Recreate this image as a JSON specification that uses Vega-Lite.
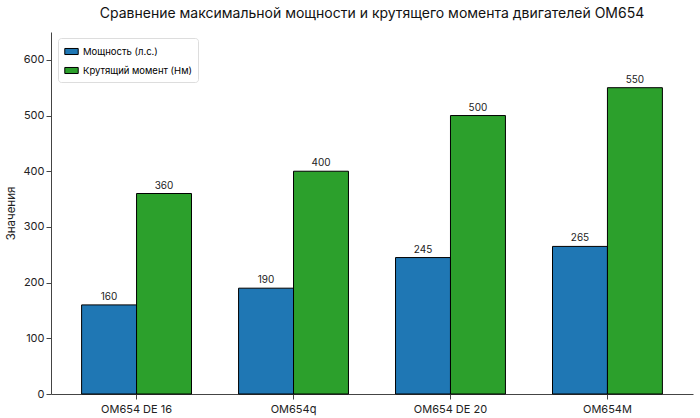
{
  "$schema": "https://vega.github.io/schema/vega-lite/v6.json",
  "autosize": "none",
  "padding": {"left": 51, "top": 32, "right": 7, "bottom": 24},
  "width": 642,
  "height": 362,
  "config": {
    "font": "Inter",
    "view": {"stroke": null},
    "axis": {"domainColor": "#444", "tickColor": "#444", "labelColor": "#222", "titleColor": "#222", "grid": false, "labelFontSize": 11, "titleFontWeight": "normal", "titleFontSize": 11.5}
  },
  "title": {"text": "Сравнение максимальной мощности и крутящего момента двигателей OM654", "fontSize": 14, "fontWeight": "normal", "color": "#111", "offset": 11},
  "data": {
    "values": [
      {"engine": "OM654 DE 16", "series": "Мощность (л.с.)", "value": 160},
      {"engine": "OM654 DE 16", "series": "Крутящий момент (Нм)", "value": 360},
      {"engine": "OM654q", "series": "Мощность (л.с.)", "value": 190},
      {"engine": "OM654q", "series": "Крутящий момент (Нм)", "value": 400},
      {"engine": "OM654 DE 20", "series": "Мощность (л.с.)", "value": 245},
      {"engine": "OM654 DE 20", "series": "Крутящий момент (Нм)", "value": 500},
      {"engine": "OM654M", "series": "Мощность (л.с.)", "value": 265},
      {"engine": "OM654M", "series": "Крутящий момент (Нм)", "value": 550}
    ]
  },
  "encoding": {
    "x": {"field": "engine", "type": "nominal", "sort": null, "title": null,
      "scale": {"paddingInner": 0.3, "paddingOuter": 0.195},
      "axis": {"labelAngle": 0, "bandPosition": 0.5, "labelPadding": 4}},
    "xOffset": {"field": "series", "type": "nominal", "sort": ["Мощность (л.с.)", "Крутящий момент (Нм)"], "scale": {"paddingInner": 0}},
    "y": {"field": "value", "type": "quantitative", "title": "Значения", "scale": {"domain": [0, 650], "nice": false},
      "axis": {"values": [0, 100, 200, 300, 400, 500, 600], "titlePadding": 7}}
  },
  "layer": [
    {
      "mark": {"type": "bar", "stroke": "black", "strokeWidth": 1},
      "encoding": {
        "color": {"field": "series", "type": "nominal",
          "scale": {"domain": ["Мощность (л.с.)", "Крутящий момент (Нм)"], "range": ["#1f77b4", "#2ca02c"]},
          "legend": {"title": null, "orient": "none", "legendX": 7, "legendY": 6, "symbolType": "M-1,-0.45H1V0.45H-1Z", "symbolSize": 180, "symbolStrokeColor": "black", "symbolStrokeWidth": 1, "labelFontSize": 9.5, "rowPadding": 6, "padding": 6, "strokeColor": "#ddd", "cornerRadius": 3, "fillColor": "white"}}
      }
    },
    {
      "mark": {"type": "text", "baseline": "bottom", "dy": -3, "fontSize": 10, "color": "#222"},
      "encoding": {"text": {"field": "value", "type": "quantitative"}}
    }
  ]
}
